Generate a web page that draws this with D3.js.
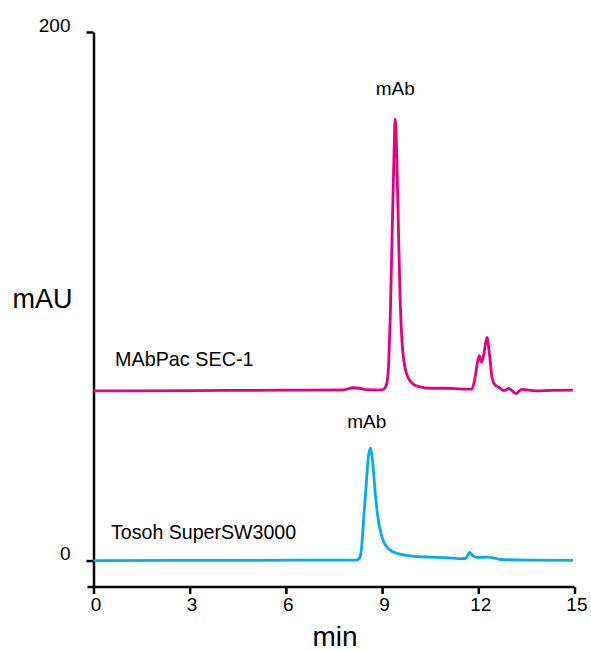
<!DOCTYPE html>
<html>
<head>
<meta charset="utf-8">
<script src="https://cdn.jsdelivr.net/npm/d3@7"></script>
<style>
  body { margin: 0; background: #fff; }
  svg { font-family: "Liberation Sans", Arial, sans-serif; }
  .axis path, .axis line { stroke: #000; stroke-width: 2.5px; }
  .axis text { font-size: 19px; fill: #000; }
  .trace { fill: none; stroke-width: 2.8px; stroke-linejoin: round; }
</style>
</head>
<body>
<svg width="591" height="651"></svg>
<script>
// chromatogram traces, [min, mAU]
var mabpac = [
  [0, 64.2], [3, 64.3], [6, 64.5], [7.8, 64.6], [8.1, 65.4], [8.3, 65.2],
  [8.5, 64.7], [9.0, 64.6], [9.1, 65.5], [9.16, 68], [9.21, 76], [9.26, 95],
  [9.31, 122], [9.36, 148], [9.41, 167], [9.46, 152], [9.51, 125], [9.56, 100],
  [9.62, 83], [9.7, 74], [9.8, 69.5], [9.95, 67], [10.15, 65.8], [10.5, 65.2],
  [11.0, 65.2], [11.5, 64.9], [11.8, 64.9], [11.88, 68], [11.96, 74], [12.03, 77.5],
  [12.1, 75], [12.17, 78], [12.27, 84.4], [12.35, 78], [12.43, 69], [12.52, 66.5],
  [12.65, 65.5], [12.8, 64.3], [12.95, 65.1], [13.18, 63.2], [13.35, 64.8],
  [13.8, 64.2], [14.3, 64.4], [14.95, 64.5]
];
var tosoh = [
  [0, 0], [5, 0.1], [8.2, 0.2], [8.3, 1], [8.36, 5], [8.42, 15], [8.5, 28],
  [8.57, 39], [8.64, 42.6], [8.7, 38], [8.77, 28], [8.85, 18], [8.95, 11],
  [9.05, 7], [9.2, 4.5], [9.5, 2.6], [10, 1.6], [10.5, 1.3], [11, 1.1],
  [11.5, 0.7], [11.62, 0.9], [11.73, 3.1], [11.85, 1.6], [12.0, 1.2],
  [12.3, 1.3], [12.5, 0.9], [12.7, 0.4], [13.5, 0.2], [14.95, 0.1]
];
var xTicks = [0, 3, 6, 9, 12, 15];
var yTicks = [0, 200];
var traceNames = ["MAbPac SEC-1", "Tosoh SuperSW3000"];
var peakLabel = "mAb";

var svg = d3.select("svg");

var x = d3.scaleLinear().domain([0, 15]).range([93.5, 574.5]);
var y = d3.scaleLinear().domain([-10, 200]).range([587, 32]);

// y axis
var yAxis = svg.append("g")
    .attr("class", "axis")
    .attr("transform", "translate(" + x(0) + ",0)")
    .call(d3.axisLeft(y).tickValues(yTicks).tickSize(7).tickSizeOuter(0).tickPadding(16));
yAxis.selectAll("text").attr("dy", "-0.05em");

// x axis
var xAxis = svg.append("g")
    .attr("class", "axis")
    .attr("transform", "translate(0," + y(-10) + ")")
    .call(d3.axisBottom(x).tickValues(xTicks).tickSize(7).tickSizeOuter(0).tickPadding(4));
xAxis.select(".domain").attr("d", "M" + (x(0) - 6) + ",0H" + x(15));
xAxis.selectAll("text").attr("dx", "0.1em");

// axis labels
svg.append("text")
    .attr("x", 42.5).attr("y", 308)
    .attr("text-anchor", "middle")
    .style("font-size", "27px")
    .text("mAU");
svg.append("text")
    .attr("x", x(7.5) + 1).attr("y", 646)
    .attr("text-anchor", "middle")
    .style("font-size", "28px")
    .text("min");

var line = d3.line()
    .x(function(d) { return x(d[0]); })
    .y(function(d) { return y(d[1]); })
    .curve(d3.curveMonotoneX);

svg.append("path").datum(mabpac)
    .attr("class", "trace")
    .attr("stroke", "#e6007e")
    .attr("d", line);
svg.append("path").datum(tosoh)
    .attr("class", "trace")
    .attr("stroke", "#00aeef")
    .attr("d", line);

// trace names
svg.append("text")
    .attr("x", 115).attr("y", 366)
    .style("font-size", "19.8px")
    .text(traceNames[0]);
svg.append("text")
    .attr("x", 111).attr("y", 539)
    .style("font-size", "19.6px")
    .text(traceNames[1]);

// peak labels
svg.append("text")
    .attr("x", x(9.41)).attr("y", 95)
    .attr("text-anchor", "middle")
    .style("font-size", "19px")
    .text(peakLabel);
svg.append("text")
    .attr("x", x(8.55) - 1).attr("y", 428)
    .attr("text-anchor", "middle")
    .style("font-size", "19px")
    .text(peakLabel);
</script>
</body>
</html>
